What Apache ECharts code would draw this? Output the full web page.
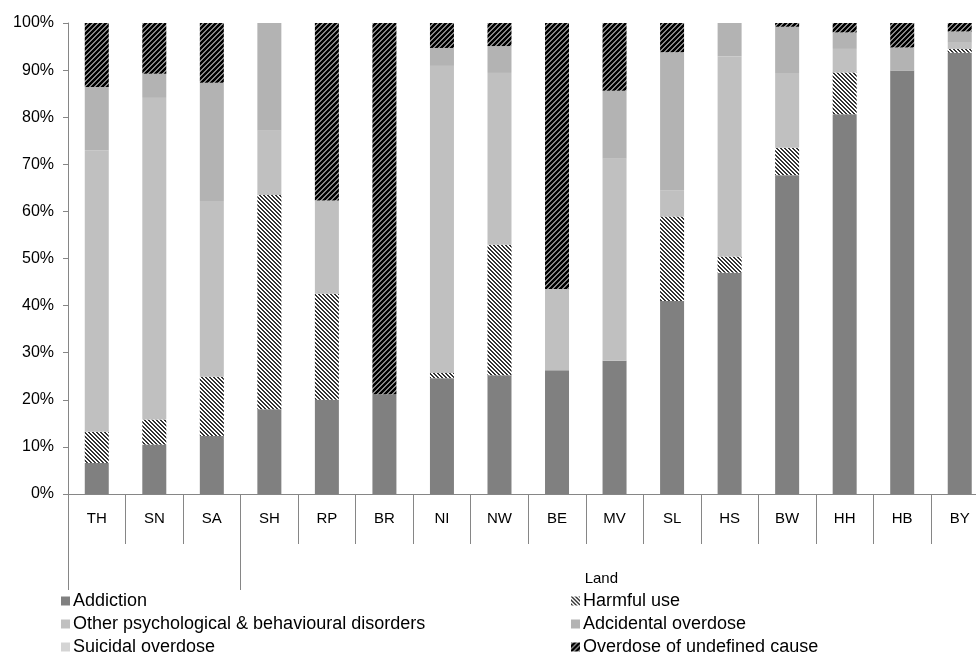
<!DOCTYPE html>
<html>
<head>
<meta charset="utf-8">
<script src="https://cdn.jsdelivr.net/npm/echarts@6/dist/echarts.min.js"></script>
<style>
html, body { margin: 0; padding: 0; background: #fff; overflow: hidden; }
#main { width: 1000px; height: 659px; }
</style>
</head>
<body>
<div id="main"></div>
<script>
var lands = ['TH', 'SN', 'SA', 'SH', 'RP', 'BR', 'NI', 'NW', 'BE', 'MV', 'SL', 'HS', 'BW', 'HH', 'HB', 'BY'];
// shares in percent
var addiction  = [6.6, 10.5, 12.3, 18.0, 20.0, 21.2, 24.6, 25.2, 26.3, 28.3, 41.0, 47.0, 67.7, 80.6, 89.9, 93.7];
var harmfulUse = [6.6, 5.3, 12.6, 45.5, 22.5, 0, 1.1, 27.7, 0, 0, 17.9, 3.4, 5.8, 8.9, 0, 0.8];
var otherPsych = [59.8, 68.3, 37.3, 13.6, 19.8, 0, 65.2, 36.5, 17.2, 42.9, 5.6, 42.5, 15.9, 5.0, 0, 1.3];
var accidental = [13.4, 5.1, 25.1, 22.9, 0, 0, 3.8, 5.7, 0, 14.4, 29.3, 7.1, 9.8, 3.5, 4.9, 2.4];
var suicidal   = [0, 0, 0, 0, 0, 0, 0, 0, 0, 0, 0, 0, 0, 0, 0, 0];
var undefinedCause = [13.6, 10.8, 12.7, 0, 37.7, 78.8, 5.3, 4.9, 56.5, 14.4, 6.2, 0, 0.8, 2.0, 5.2, 1.8];

var groupTicks = [0, 3];
var groupLabelAt = [9.27];

var seriesNames = ['Addiction', 'Harmful use', 'Other psychological & behavioural disorders',
    'Adcidental overdose', 'Suicidal overdose', 'Overdose of undefined cause'];

function stripes(bg, fg, size, period, band, slash) {
    var c = document.createElement('canvas');
    c.width = size; c.height = size;
    var ctx = c.getContext('2d');
    ctx.fillStyle = bg;
    ctx.fillRect(0, 0, size, size);
    ctx.fillStyle = fg;
    for (var y = 0; y < size; y++) {
        for (var x = 0; x < size; x++) {
            var k = slash ? (x + y) % period : (x - y + size * 2) % period;
            if (k < band) ctx.fillRect(x, y, 1, 1);
        }
    }
    return c;
}

var harmfulPattern = { image: stripes('#ffffff', '#333333', 8, 4, 2, false), repeat: 'repeat' };
var undefinedPattern = { image: stripes('#000000', '#858585', 10, 5, 2, true), repeat: 'repeat' };

var font = 'Liberation Sans, Arial, sans-serif';
var myChart = echarts.init(document.getElementById('main'));

function mkSeries(name, data, color) {
    return {
        name: name,
        type: 'bar',
        stack: 'all',
        barWidth: 24,
        data: data,
        itemStyle: { color: color },
        emphasis: { disabled: true }
    };
}

// legend laid out in two columns, three rows (one component per entry)
var legends = [];
for (var i = 0; i < seriesNames.length; i++) {
    legends.push({
        left: i % 2 == 0 ? 61 : 571,
        top: 592 + Math.floor(i / 2) * 23,
        padding: 0,
        icon: 'rect',
        itemWidth: 9, itemHeight: 9,
        textStyle: { fontSize: 18, color: '#000', fontFamily: font, padding: [0, 0, 0, -2] },
        data: [seriesNames[i]]
    });
}

var option = {
    animation: false,
    textStyle: { fontFamily: font },
    grid: { left: 68, top: 23, width: 920.5, height: 471 },
    legend: legends,
    xAxis: [{
        type: 'category',
        data: lands,
        axisLine: { lineStyle: { color: '#868686' } },
        axisTick: { show: true, length: 50, interval: 0, lineStyle: { color: '#868686' } },
        axisLabel: { interval: 0, margin: 17, fontSize: 15, color: '#000', fontFamily: font }
    }, {
        type: 'value',
        min: 0, max: 16,
        position: 'bottom',
        axisLine: { show: false },
        splitLine: { show: false },
        axisTick: { show: true, customValues: groupTicks, length: 96, lineStyle: { color: '#868686' } },
        axisLabel: {
            customValues: groupLabelAt, margin: 77, fontSize: 15, color: '#000', fontFamily: font,
            formatter: function () { return 'Land'; }
        }
    }],
    yAxis: {
        type: 'value',
        min: 0, max: 100, interval: 10,
        axisLine: { show: true, lineStyle: { color: '#868686' } },
        axisTick: { show: true, length: 5, lineStyle: { color: '#868686' } },
        splitLine: { show: false },
        axisLabel: { formatter: '{value}%', fontSize: 16, color: '#000', margin: 14, fontFamily: font }
    },
    series: [
        mkSeries(seriesNames[0], addiction, '#808080'),
        mkSeries(seriesNames[1], harmfulUse, harmfulPattern),
        mkSeries(seriesNames[2], otherPsych, '#c0c0c0'),
        mkSeries(seriesNames[3], accidental, '#b3b3b3'),
        mkSeries(seriesNames[4], suicidal, '#d4d4d4'),
        mkSeries(seriesNames[5], undefinedCause, undefinedPattern)
    ]
};

myChart.setOption(option, true);
</script>
</body>
</html>
